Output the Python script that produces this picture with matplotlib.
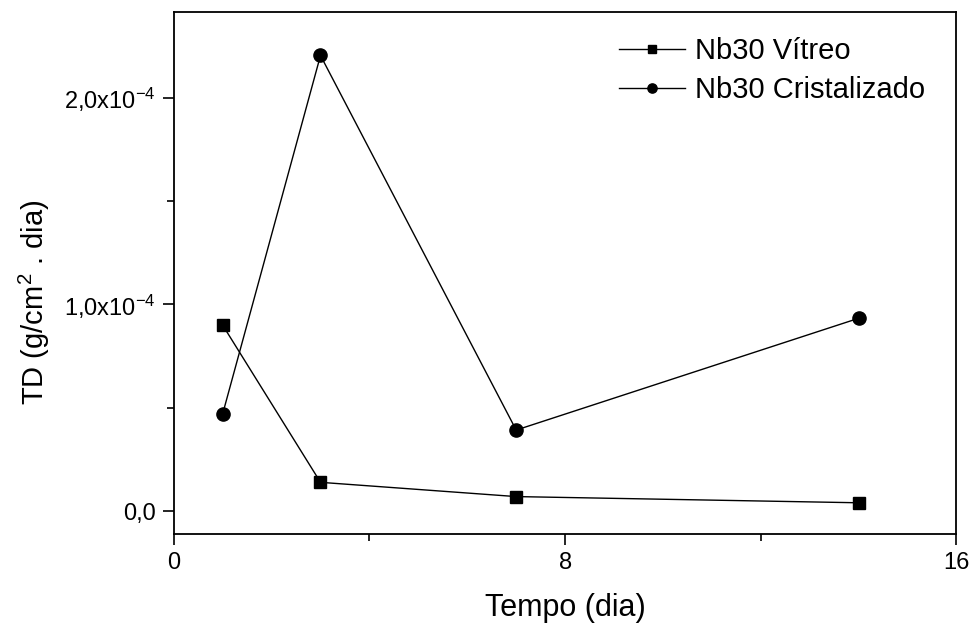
import numpy as np
import matplotlib.pyplot as plt
from matplotlib.ticker import FixedLocator, FuncFormatter

plt.rcParams['font.family'] = ['Liberation Sans', 'DejaVu Sans']

dias = [1, 3, 7, 14]
vitreo = [0.90e-4, 0.139e-4, 0.070e-4, 0.040e-4]
cristalizado = [0.47e-4, 2.205e-4, 0.392e-4, 0.933e-4]

fig = plt.figure(figsize=(9.76, 6.26), dpi=100)
ax = fig.add_axes([0.178, 0.147, 0.802, 0.834])

ax.plot(dias, vitreo, marker='s', markersize=8.5, linestyle='-', linewidth=1.0, color='k', label='Nb30 Vítreo')
ax.plot(dias, cristalizado, marker='o', markersize=9.5, linestyle='-', linewidth=1.0, color='k', label='Nb30 Cristalizado')

ax.set_xlim(0, 16)
ax.set_ylim(-0.111e-4, 2.416e-4)

ax.xaxis.set_major_locator(FixedLocator([0, 8, 16]))
ax.xaxis.set_minor_locator(FixedLocator([4, 12]))
ax.yaxis.set_major_locator(FixedLocator([0, 1e-4, 2e-4]))
ax.yaxis.set_minor_locator(FixedLocator([0.5e-4, 1.5e-4]))

def fmt_y(v, pos):
    if abs(v) < 1e-12:
        return '0,0'
    n = '%.1f' % (v * 1e4)
    a, b = n.split('.')
    return r'$\mathregular{%s{,}%sx10^{-4}}$' % (a, b)

ax.yaxis.set_major_formatter(FuncFormatter(fmt_y))

ax.tick_params(which='both', direction='out', width=1.2, labelsize=17)
ax.tick_params(which='major', length=8, pad=5)
ax.tick_params(which='minor', length=5)
for s in ax.spines.values():
    s.set_linewidth(1.3)

ax.set_xlabel('Tempo (dia)', fontsize=22, labelpad=14)
ax.set_ylabel(r'TD (g/cm$\mathregular{^2}$ . dia)', fontsize=21)
ax.yaxis.set_label_coords(-0.155, 0.444)

ax.legend(loc='upper right', frameon=False, fontsize=21, handlelength=2.26,
          handletextpad=0.34, labelspacing=0.37, markerscale=0.7,
          borderpad=0, borderaxespad=0, bbox_to_anchor=(0.96, 0.952))

fig.savefig('out.png', dpi=100)
